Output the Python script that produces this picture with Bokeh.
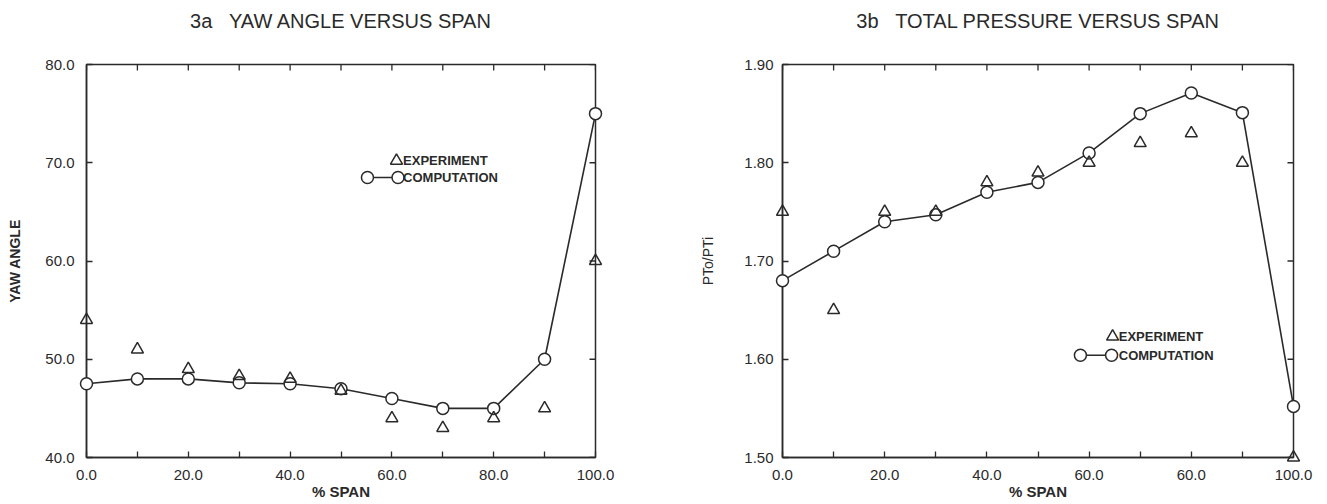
import math
from bokeh.plotting import figure
from bokeh.layouts import row
from bokeh.models import FixedTicker, Range1d
from bokeh.core.properties import value
from bokeh.embed import file_html
from bokeh.resources import INLINE

# ---------------- data ----------------
span = [0, 10, 20, 30, 40, 50, 60, 70, 80, 90, 100]

yaw_computation = [47.5, 48.0, 48.0, 47.6, 47.5, 47.0, 46.0, 45.0, 45.0, 50.0, 75.0]
yaw_experiment = [54.0, 51.0, 49.0, 48.3, 48.0, 46.8, 44.0, 43.0, 44.0, 45.0, 60.0]

pt_computation = [1.680, 1.710, 1.740, 1.747, 1.770, 1.780, 1.810, 1.850, 1.871, 1.851, 1.552]
pt_experiment = [1.750, 1.650, 1.750, 1.750, 1.780, 1.790, 1.800, 1.820, 1.830, 1.800, 1.500]

x_major = [0, 20, 40, 60, 80, 100]
x_minor = [10, 30, 50, 70, 90]
x_all = [0, 10, 20, 30, 40, 50, 60, 70, 80, 90, 100]
x_labels_a = ["0.0", "20.0", "40.0", "60.0", "80.0", "100.0"]
x_labels_b = ["0.0", "20.0", "40.0", "60.0", "60.0", "100.0"]

yaw_ticks = [40, 50, 60, 70, 80]
yaw_labels = ["40.0", "50.0", "60.0", "70.0", "80.0"]
pt_ticks = [1.5, 1.6, 1.7, 1.8, 1.9]
pt_labels = ["1.50", "1.60", "1.70", "1.80", "1.90"]

titles = ["3a\u00a0\u00a0\u00a0YAW ANGLE VERSUS SPAN", "3b\u00a0\u00a0\u00a0TOTAL PRESSURE VERSUS SPAN"]
legend_texts = ["EXPERIMENT", "COMPUTATION"]

FONT = "Liberation Sans"
INK = "#2a2a2a"


def make_panel(title, ylabel, ylabel_style, yr, yt, ytl, xtl, ys, yc, ye,
               width, mb_left, mb_right, y_label_standoff, y_tick_standoff,
               leg):
    p = figure(width=width, height=502, output_backend="svg", toolbar_location=None,
               x_range=Range1d(0, 100), y_range=Range1d(*yr),
               min_border_left=mb_left, min_border_right=mb_right,
               min_border_top=64, min_border_bottom=10,
               background_fill_color="white", border_fill_color="white")
    p.xgrid.visible = False
    p.ygrid.visible = False
    p.outline_line_color = INK
    p.outline_line_width = 1.5

    xa = p.xaxis[0]
    xa.ticker = FixedTicker(ticks=x_major, minor_ticks=x_minor)
    xa.major_label_overrides = {t: l for t, l in zip(x_major, xtl)}
    xa.axis_label = "% SPAN"
    xa.major_label_standoff = 12
    xa.axis_label_standoff = 0
    xa.axis_label_text_font_style = "bold"
    ya = p.yaxis[0]
    ya.ticker = FixedTicker(ticks=yt)
    ya.major_label_overrides = {t: l for t, l in zip(yt, ytl)}
    ya.axis_label = ylabel
    ya.axis_label_standoff = y_label_standoff
    ya.major_label_standoff = y_tick_standoff
    ya.axis_label_text_font_style = ylabel_style
    for ax in (xa, ya):
        ax.axis_line_color = INK
        ax.axis_line_width = 1.5
        ax.major_tick_in = 6
        ax.major_tick_out = 0
        ax.minor_tick_in = 6
        ax.minor_tick_out = 0
        ax.major_tick_line_color = INK
        ax.minor_tick_line_color = INK
        ax.major_tick_line_width = 1.3
        ax.minor_tick_line_width = 1.3
        ax.major_label_text_font = FONT
        ax.major_label_text_font_size = "15px"
        ax.major_label_text_color = INK
        ax.axis_label_text_font = FONT
        ax.axis_label_text_font_size = "15px"
        ax.axis_label_text_color = INK
    ya.axis_label_text_font_size = "14px"

    # inward ticks on top and right edges (outer half clipped by the frame)
    p.scatter(x_all, [yr[1]] * len(x_all), marker="dash", angle=math.pi / 2, size=12,
              line_color=INK, line_width=1.3)
    p.scatter([100] * len(yt), yt, marker="dash", size=12, line_color=INK, line_width=1.3)

    # title above the frame (text glyph at overlay level so it is not clipped)
    p.text([50], [yr[1]], text=[title], y_offset=-44, text_align="center",
           text_baseline="middle", text_font=value(FONT), text_font_size="20px",
           text_color=INK, level="overlay")

    # computation: line with hollow circles
    p.line(ys, yc, line_color=INK, line_width=1.6, level="overlay")
    p.scatter(ys, yc, marker="circle", size=12, line_color=INK, line_width=1.5,
              fill_color="white", level="overlay")
    # experiment: hollow triangles
    p.scatter(ys, ye, marker="triangle", size=12, line_color=INK, line_width=1.5,
              fill_color=None, level="overlay")

    # legend (drawn in data space)
    tx, ty, cx0, cx1, cy, textx = leg
    p.scatter([tx], [ty], marker="triangle", size=12, line_color=INK, line_width=1.5,
              fill_color=None)
    p.line([cx0, cx1], [cy, cy], line_color=INK, line_width=1.6)
    p.scatter([cx0, cx1], [cy, cy], marker="circle", size=12, line_color=INK,
              line_width=1.5, fill_color="white")
    p.text([textx, textx], [ty, cy], text=legend_texts, text_font=value(FONT),
           text_font_size="13px", text_font_style="bold", text_color=INK,
           text_baseline="middle", text_align="left")
    return p


p1 = make_panel(titles[0], "YAW ANGLE", "bold", (40, 80),
                yaw_ticks, yaw_labels, x_labels_a, span, yaw_computation,
                yaw_experiment, width=668, mb_left=86, mb_right=73,
                y_label_standoff=19, y_tick_standoff=12,
                leg=(60.9, 70.2, 55.2, 61.2, 68.5, 62.2))
p2 = make_panel(titles[1], "PTo/PTi", "normal", (1.5, 1.9),
                pt_ticks, pt_labels, x_labels_b, span, pt_computation,
                pt_experiment, width=657, mb_left=114, mb_right=32,
                y_label_standoff=25, y_tick_standoff=9,
                leg=(64.6, 1.623, 58.3, 64.4, 1.604, 65.8))

layout = row(p1, p2)
open("out.html", "w").write(file_html(layout, INLINE))
